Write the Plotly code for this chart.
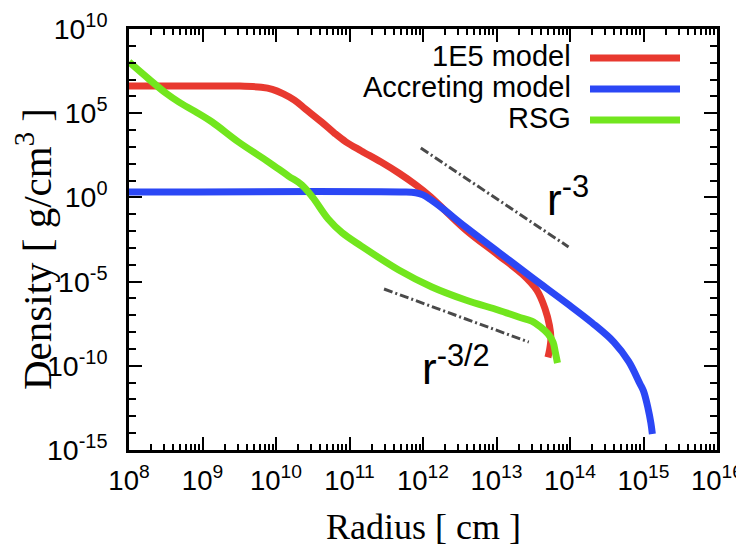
import plotly.graph_objects as go

# ---------------- data ----------------
r_1e5 = [1.0e8, 1.0e9, 3.16e9, 6.31e9, 8.91e9, 1.26e10, 1.78e10, 2.51e10, 4.17e10,
         6.31e10, 8.91e10, 1.45e11, 2.69e11, 4.68e11, 7.94e11, 1.26e12, 3.8e12,
         1.07e13, 2.24e13, 3.55e13, 4.57e13, 5.25e13, 5.5e13, 5.25e13, 5.01e13]
rho_1e5 = [4.07e6, 4.17e6, 4.07e6, 3.47e6, 2.63e6, 1.41e6, 6.0e5, 1.78e5, 3.0e4,
           6.3e3, 2.0e3, 575, 126, 28, 5.6, 1.12, 1.2e-2,
           3.6e-4, 2.8e-5, 3.0e-6, 2.5e-7, 2.5e-8, 4.0e-9, 7.9e-10, 3.16e-10]

r_acc = [1.0e8, 5.01e11, 7.94e11, 1.0e12, 1.26e12, 1.78e12, 3.8e12, 1.07e13, 3.02e13,
         9.12e13, 2.0e14, 3.98e14, 6.31e14, 8.91e14, 1.0e15, 1.15e15, 1.26e15, 1.32e15]
rho_acc = [2.09, 2.09, 1.9, 1.41, 0.76, 0.25, 1.74e-2, 5.6e-4, 1.78e-5,
           5.0e-7, 3.55e-8, 2.5e-9, 1.78e-10, 8.9e-12, 3.16e-12, 3.16e-13, 4.0e-14, 8.9e-15]

r_rsg = [1.0e8, 1.86e8, 3.16e8, 4.79e8, 7.94e8, 1.35e9, 3.09e9, 7.94e9, 1.48e10,
         2.24e10, 3.16e10, 5.13e10, 7.94e10, 1.45e11, 4.68e11, 1.32e12, 3.8e12,
         1.07e13, 2.0e13, 3.02e13, 3.98e13, 5.01e13, 5.89e13, 6.31e13, 6.76e13]
rho_rsg = [1.1e8, 1.07e7, 1.58e6, 4.57e5, 1.26e5, 3.0e4, 1.95e3, 126, 18.6,
           5.6, 1.0, 5.2e-2, 7.9e-3, 1.29e-3, 4.9e-5, 4.8e-6, 8.1e-7,
           2.0e-7, 7.9e-8, 4.5e-8, 2.0e-8, 7.9e-9, 2.5e-9, 6.3e-10, 1.48e-10]

# reference power-law guides
r_slope3 = [9.33e11, 9.55e13]
rho_slope3 = [851, 1.15e-3]
r_slope32 = [2.95e11, 2.75e13]
rho_slope32 = [3.63e-6, 2.57e-9]

series_names = ["1E5 model", "Accreting model", "RSG"]
series_colors = ["#e8392f", "#2b47f5", "#72e61e"]

x_exponents = [8, 9, 10, 11, 12, 13, 14, 15, 16]
y_exponents = [-15, -10, -5, 0, 5, 10]
x_ticktext = ["10<sup>%d</sup>" % e for e in x_exponents]
y_ticktext = ["10<sup>%d</sup>" % e for e in y_exponents]

# ---------------- layout geometry (page pixels) ----------------
PAGE_W, PAGE_H = 744, 548
OFF = 8                          # default body margin of the page
W, H = PAGE_W - OFF, PAGE_H - OFF
L, R, T, B = 129, 717, 29, 450   # plot area in page pixels


def px(x):
    return (x - L) / (R - L)


def py(y):
    return 1 - (y - T) / (B - T)


fig = go.Figure()

for xs, ys, nm, col in zip([r_1e5, r_acc, r_rsg], [rho_1e5, rho_acc, rho_rsg],
                           series_names, series_colors):
    fig.add_trace(go.Scatter(x=xs, y=ys, name=nm, mode="lines",
                             line=dict(color=col, width=7, shape="spline", smoothing=1.0),
                             showlegend=False))

for xs, ys in [(r_slope3, rho_slope3), (r_slope32, rho_slope32)]:
    fig.add_trace(go.Scatter(x=xs, y=ys, mode="lines", showlegend=False,
                             line=dict(color="#4a4a4a", width=3, dash="9px,3px,2px,3px")))

sans = "Liberation Sans, Arial, sans-serif"
serif = "Liberation Serif, Times New Roman, serif"

x_minor = [m * 10 ** e for e in x_exponents[:-1] for m in range(2, 10)]
y_minor = [10.0 ** e for e in range(-15, 11) if e % 5 != 0]

common_axis = dict(type="log", showgrid=False, zeroline=False, showline=True,
                   automargin=False,
                   linecolor="black", linewidth=2.5, mirror="ticks",
                   ticks="inside", ticklen=13, tickwidth=2, tickcolor="black",
                   ticklabeloverflow="allow")

fig.update_xaxes(range=[8, 16], tickmode="array",
                 tickvals=[10.0 ** e for e in x_exponents], ticktext=x_ticktext,
                 minor=dict(tickmode="array", tickvals=x_minor, ticks="inside",
                            ticklen=6, tickwidth=1.5, tickcolor="black", showgrid=False),
                 ticklabelstandoff=4,
                 tickfont=dict(family=sans, size=27.5, color="black"),
                 **common_axis)
fig.update_yaxes(range=[-15, 10], tickmode="array",
                 tickvals=[10.0 ** e for e in y_exponents], ticktext=y_ticktext,
                 minor=dict(tickmode="array", tickvals=y_minor, ticks="inside",
                            ticklen=7, tickwidth=1.5, tickcolor="black", showgrid=False),
                 ticklabelstandoff=13,
                 tickfont=dict(family=sans, size=28.5, color="black"),
                 **common_axis)

annotations = []
shapes = []

# axis titles
annotations.append(dict(x=px(424), y=py(527), xref="paper", yref="paper",
                        text="Radius [ cm ]", showarrow=False,
                        xanchor="center", yanchor="middle",
                        font=dict(family=serif, size=36, color="black")))
annotations.append(dict(x=px(34), y=py(249), xref="paper", yref="paper",
                        text="Density [ g/cm<sup>3</sup> ]", showarrow=False, textangle=-90,
                        xanchor="center", yanchor="middle",
                        font=dict(family=serif, size=41, color="black")))

# manual legend (text left of the line sample, as in the original)
legend_rows = [58, 89, 120]
for nm, col, yr in zip(series_names, series_colors, legend_rows):
    annotations.append(dict(x=px(573), y=py(yr - 2), xref="paper", yref="paper",
                            text=nm, showarrow=False, xanchor="right", yanchor="middle",
                            font=dict(family=sans, size=29, color="black")))
    shapes.append(dict(type="line", xref="paper", yref="paper",
                       x0=px(590), x1=px(680), y0=py(yr), y1=py(yr),
                       line=dict(color=col, width=7)))

# slope labels
annotations.append(dict(x=px(545), y=py(196), xref="paper", yref="paper",
                        text="r<sup>-3</sup>", showarrow=False, xanchor="left",
                        yanchor="middle", font=dict(family=sans, size=44, color="black")))
annotations.append(dict(x=px(420), y=py(365), xref="paper", yref="paper",
                        text="r<sup>-3/2</sup>", showarrow=False, xanchor="left",
                        yanchor="middle", font=dict(family=sans, size=44, color="black")))

fig.update_layout(width=W, height=H,
                  margin=dict(l=L - OFF, r=W - (R - OFF), t=T - OFF, b=H - (B - OFF),
                              autoexpand=False),
                  paper_bgcolor="white", plot_bgcolor="white",
                  shapes=shapes, annotations=annotations, showlegend=False)

fig.write_html("out.html")
